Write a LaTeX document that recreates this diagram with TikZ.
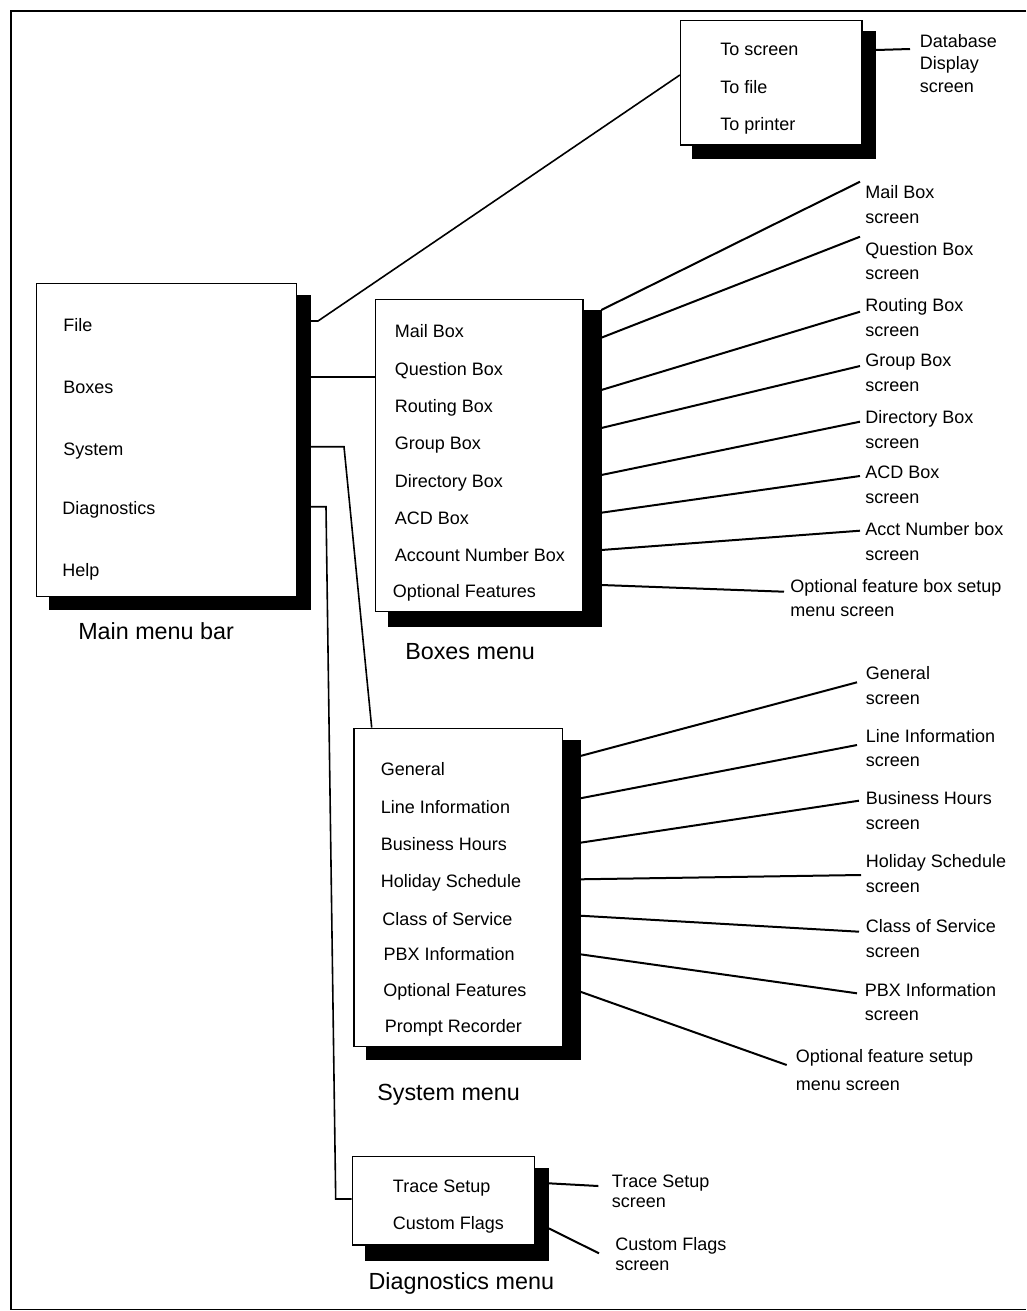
\documentclass[tikz,border=0pt]{standalone}
\usepackage{fontspec}
\setmainfont{Liberation Sans}
\usetikzlibrary{fit}
\begin{document}
\begin{tikzpicture}[x=0.75pt,y=-0.75pt,
  menubox/.style={draw=black, fill=white, line width=1.1pt, inner sep=0pt},
  menushadow/.style={draw=black, fill=black, line width=0.5pt, inner sep=0pt},
  item/.style={anchor=base west, inner sep=0pt, font=\fontsize{13.5}{16}\selectfont},
  caption/.style={anchor=base west, inner sep=0pt, font=\fontsize{17.5}{20}\selectfont},
  scrlabel/.style={anchor=north west, inner sep=0pt, align=left, font=\fontsize{13.5}{#1}\selectfont},
  scrlabel/.default=18.75,
  conn/.style={line width=1.5pt},
  thinconn/.style={line width=1.2pt}]
\useasboundingbox (0,0) rectangle (1026,1311);
% frame
\draw[line width=1.1pt] (1026,11) -- (11,11) -- (11,1309.5) -- (1026,1309.5);

% shadows
\node[menushadow, fit={(692.4,31.7) (875.6,158)}] (flS) {};
\node[menushadow, fit={(49.4,295) (310.4,609.3)}] (mnS) {};
\node[menushadow, fit={(388,310.7) (601,626.7)}] (bxS) {};
\node[menushadow, fit={(366.7,740) (580,1059.3)}] (syS) {};
\node[menushadow, fit={(365,1168.3) (548.3,1260)}] (dgS) {};
% boxes
\node[menubox, fit={(680.6,20.7) (862,145)}] (flB) {};
\node[menubox, fit={(36.4,283.3) (296.6,596.7)}] (mnB) {};
\node[menubox, fit={(375.6,299.3) (583,611.7)}] (bxB) {};
\node[menubox, fit={(354,728.3) (562.3,1046.7)}] (syB) {};
\node[menubox, fit={(352.3,1156.7) (534.3,1245)}] (dgB) {};

% file menu items
\node[item] (f1) at (720,55.5) {To screen};
\node[item] (f2) at (720,93.5) {To file};
\node[item] (f3) at (720,130.5) {To printer};
% main menu items
\node[item] (m1) at (63,331.5) {File};
\node[item] (m2) at (63,393.5) {Boxes};
\node[item] (m3) at (63,455.5) {System};
\node[item] (m4) at (62,514.5) {Diagnostics};
\node[item] (m5) at (62,576.5) {Help};
\node[caption] (mcap) at (78,639) {Main menu bar};
% boxes menu items
\node[item] (b1) at (394.6,337.2) {Mail Box};
\node[item] (b2) at (394.6,375.5) {Question Box};
\node[item] (b3) at (394.6,412.5) {Routing Box};
\node[item] (b4) at (394.6,449.5) {Group Box};
\node[item] (b5) at (394.6,487.5) {Directory Box};
\node[item] (b6) at (394.6,524.5) {ACD Box};
\node[item] (b7) at (394.6,561.5) {Account Number Box};
\node[item] (b8) at (392.6,597.5) {Optional Features};
\node[caption] (bcap) at (405,659.7) {Boxes menu};
% system menu items
\node[item] (s1) at (380.7,775.5) {General};
\node[item] (s2) at (380.7,813.2) {Line Information};
\node[item] (s3) at (380.7,850.5) {Business Hours};
\node[item] (s4) at (380.7,887.2) {Holiday Schedule};
\node[item] (s5) at (382,925.5) {Class of Service};
\node[item] (s6) at (383.3,960.5) {PBX Information};
\node[item] (s7) at (383,996.5) {Optional Features};
\node[item] (s8) at (384.7,1032.2) {Prompt Recorder};
\node[caption] (scap) at (377,1100.7) {System menu};
% diagnostics menu items
\node[item] (d1) at (392.7,1192.8) {Trace Setup};
\node[item] (d2) at (392.7,1229.5) {Custom Flags};
\node[caption] (dcap) at (368.3,1289.7) {Diagnostics menu};

% screen labels
\node[scrlabel=16.9] (lDb) at (919.5,34) {Database\\Display\\screen};
\node[scrlabel] (lMail) at (865,185) {Mail Box\\screen};
\node[scrlabel=18.2] (lQ) at (865,242) {Question Box\\screen};
\node[scrlabel] (lR) at (865,298) {Routing Box\\screen};
\node[scrlabel] (lG) at (865,354) {Group Box\\screen};
\node[scrlabel] (lD) at (865,410) {Directory Box\\screen};
\node[scrlabel] (lA) at (865,466) {ACD Box\\screen};
\node[scrlabel] (lN) at (865,522) {Acct Number box\\screen};
\node[scrlabel=18] (lO) at (790,579) {Optional feature box setup\\menu screen};
\node[scrlabel=18.5] (sG) at (865.7,666.3) {General\\screen};
\node[scrlabel=18] (sL) at (865.7,729) {Line Information\\screen};
\node[scrlabel] (sB) at (865.7,791) {Business Hours\\screen};
\node[scrlabel] (sH) at (865.7,854) {Holiday Schedule\\screen};
\node[scrlabel] (sC) at (865.7,919) {Class of Service\\screen};
\node[scrlabel=18.2] (sP) at (864.7,982.7) {PBX Information\\screen};
\node[scrlabel=21] (sO) at (795.7,1049) {Optional feature setup\\menu screen};
\node[scrlabel=15] (dT) at (611.7,1174.7) {Trace Setup\\screen};
\node[scrlabel=14.8] (dC) at (615,1237.3) {Custom Flags\\screen};

% main menu connectors
\draw[thinconn] (mnS.east |- 0,321) -- (318,321) -- (flB.west |- 0,75);
\draw[thinconn] (mnS.east |- 0,376.7) -- (bxB.west |- 0,376.7);
\draw[thinconn] (mnS.east |- 0,446.7) -- (344,446.7) -- (syB.north -| 371.7,0);
\draw[thinconn] (mnS.east |- 0,506.7) -- (326,506.7) -- (335.7,1199) -- (dgB.west |- 0,1199);
% file menu connector
\draw[conn] (flS.east |- 0,50) -- ([shift={(-9.5,15)}]lDb.north west);
% boxes menu connectors
\draw[conn] (bxS.east |- 0,310) -- ([shift={(-5,-3.3)}]lMail.north west);
\draw[conn] (bxS.east |- 0,337.7) -- ([shift={(-5,-5.3)}]lQ.north west);
\draw[conn] (bxS.east |- 0,390) -- ([shift={(-5,13.7)}]lR.north west);
\draw[conn] (bxS.east |- 0,428) -- ([shift={(-5,12)}]lG.north west);
\draw[conn] (bxS.east |- 0,475) -- ([shift={(-5,11.7)}]lD.north west);
\draw[conn] (bxS.east |- 0,512.7) -- ([shift={(-5,10)}]lA.north west);
\draw[conn] (bxS.east |- 0,550) -- ([shift={(-5,8.7)}]lN.north west);
\draw[conn] (bxS.east |- 0,585) -- ([shift={(-6,12.7)}]lO.north west);
% system menu connectors
\draw[conn] (syS.east |- 0,756) -- ([shift={(-8.7,16)}]sG.north west);
\draw[conn] (syS.east |- 0,798.3) -- ([shift={(-8.7,16)}]sL.north west);
\draw[conn] (syS.east |- 0,842.7) -- ([shift={(-6.7,9.7)}]sB.north west);
\draw[conn] (syS.east |- 0,879.3) -- ([shift={(-4.7,21)}]sH.north west);
\draw[conn] (syS.east |- 0,915.7) -- ([shift={(-6.7,12.7)}]sC.north west);
\draw[conn] (syS.east |- 0,954.3) -- ([shift={(-7.7,10.6)}]sP.north west);
\draw[conn] (syS.east |- 0,991.7) -- ([shift={(-9,16)}]sO.north west);
% diagnostics menu connectors
\draw[conn] (dgS.east |- 0,1183.3) -- ([shift={(-13.4,11.3)}]dT.north west);
\draw[conn] (dgS.east |- 0,1228.3) -- ([shift={(-16,16)}]dC.north west);
\end{tikzpicture}
\end{document}
